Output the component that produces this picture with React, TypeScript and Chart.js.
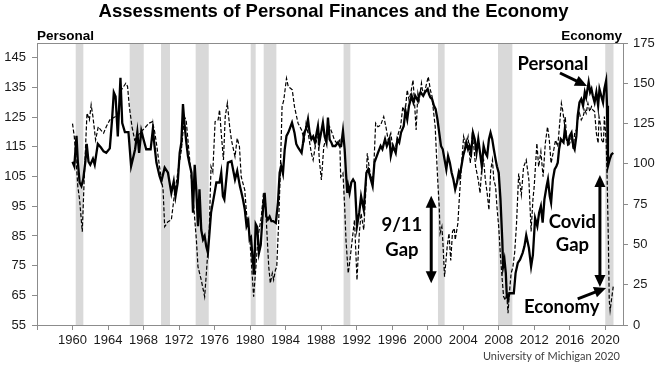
import React, { useEffect, useRef } from 'react';
import { Chart, registerables } from 'chart.js';

Chart.register(...registerables);

// ---- Data ----
const personalYears = [
  1960.0, 1960.2, 1960.45, 1960.6, 1960.8, 1961.0, 1961.2, 1961.45, 1961.6, 1961.8, 1962.0, 1962.3, 1962.5, 1962.85,
  1963.2, 1963.5, 1963.8, 1964.2, 1964.45, 1964.65, 1964.85, 1965.1, 1965.4, 1965.6, 1965.9, 1966.3, 1966.6, 1966.8,
  1967.05, 1967.3, 1967.5, 1967.75, 1968.0, 1968.3, 1968.8, 1969.05, 1969.25, 1969.45, 1969.8, 1970.0, 1970.38, 1970.75,
  1971.13, 1971.4, 1971.6, 1971.85, 1972.07, 1972.26, 1972.44, 1972.6, 1972.8, 1973.0, 1973.2, 1973.4, 1973.57, 1973.76,
  1973.95, 1974.13, 1974.3, 1974.5, 1974.7, 1974.88, 1975.06, 1975.25, 1975.4, 1975.6, 1976.0, 1976.2, 1976.56, 1976.75,
  1976.94, 1977.1, 1977.5, 1977.9, 1978.3, 1978.55, 1978.85, 1979.0, 1979.2, 1979.4, 1979.6, 1979.8, 1979.95, 1980.1,
  1980.3, 1980.45, 1980.63, 1980.8, 1981.0, 1981.2, 1981.45, 1981.64, 1981.82, 1982.0, 1982.2, 1982.4, 1982.6, 1982.9,
  1983.14, 1983.33, 1983.5, 1983.7, 1983.9, 1984.1, 1984.3, 1984.45, 1984.72, 1985.0, 1985.2, 1985.4, 1985.8, 1985.95,
  1986.1, 1986.3, 1986.52, 1986.7, 1986.9, 1987.1, 1987.3, 1987.5, 1987.64, 1987.8, 1988.0, 1988.2, 1988.4, 1988.6,
  1988.77, 1988.96, 1989.15, 1989.3, 1989.6, 1989.9, 1990.1, 1990.25, 1990.46, 1990.65, 1990.8, 1990.95, 1991.05, 1991.2,
  1991.4, 1991.6, 1991.8, 1992.04, 1992.3, 1992.5, 1992.8, 1993.1, 1993.3, 1993.6, 1993.8, 1994.0, 1994.4, 1994.7,
  1994.9, 1995.2, 1995.4, 1995.7, 1995.85, 1996.1, 1996.4, 1996.6, 1996.8, 1997.0, 1997.3, 1997.5, 1997.7, 1997.9,
  1998.2, 1998.4, 1998.6, 1998.9, 1999.0, 1999.2, 1999.5, 1999.7, 2000.0, 2000.15, 2000.3, 2000.5, 2000.7, 2000.9,
  2001.1, 2001.3, 2001.5, 2001.7, 2001.9, 2002.1, 2002.3, 2002.5, 2002.7, 2002.9, 2003.1, 2003.3, 2003.5, 2003.6,
  2003.8, 2004.0, 2004.2, 2004.35, 2004.55, 2004.7, 2004.9, 2005.1, 2005.3, 2005.5, 2005.7, 2005.9, 2006.1, 2006.3,
  2006.5, 2006.7, 2006.9, 2007.08, 2007.27, 2007.45, 2007.65, 2007.8, 2008.0, 2008.2, 2008.4, 2008.5, 2008.65, 2008.8,
  2008.9, 2009.05, 2009.2, 2009.4, 2009.7, 2009.9, 2010.15, 2010.4, 2010.7, 2010.9, 2011.1, 2011.4, 2011.65, 2011.85,
  2012.1, 2012.35, 2012.55, 2012.75, 2012.95, 2013.15, 2013.4, 2013.55, 2013.75, 2013.9, 2014.1, 2014.3, 2014.5, 2014.65,
  2014.8, 2015.0, 2015.3, 2015.45, 2015.65, 2015.85, 2016.0, 2016.2, 2016.4, 2016.55, 2016.75, 2016.9, 2017.1, 2017.3,
  2017.5, 2017.7, 2017.85, 2018.13, 2018.3, 2018.45, 2018.6, 2018.8, 2019.0, 2019.2, 2019.35, 2019.55, 2019.75, 2019.9,
  2020.1, 2020.2, 2020.3, 2020.5, 2020.7, 2020.9,
];
const personalValues = [
  110, 108.5, 118.7, 110, 103, 101.8, 104, 110, 116, 110, 109, 111, 109, 116,
  114.8, 113.5, 113, 114.5, 124, 133.4, 132, 118.5, 138.3, 123, 120, 120, 108.5, 111,
  114.2, 120, 113, 120.4, 117.5, 114.2, 114.2, 121, 115, 109.7, 105.2, 103.4, 108, 106.3,
  99.5, 103.4, 98.4, 103, 113, 116.5, 129.4, 123.2, 117, 111.9, 109, 106.3, 92.8, 109,
  100, 88.3, 100.7, 87, 83.8, 85, 81.5, 79.3, 85, 92.8, 99.5, 103, 103, 106.3,
  98.4, 97.3, 109.7, 110.2, 104, 106.9, 101.8, 100, 97.3, 94, 88.3, 90, 83.8, 84.5,
  77, 72, 89, 88, 79.3, 82, 93.9, 99.5, 91.6, 90.5, 91.5, 90, 90, 89.4,
  96.2, 106.3, 108.5, 106, 114.2, 118.7, 119.8, 121, 123.2, 119.8, 116, 114.8, 113, 116,
  119.8, 121, 124.3, 119.8, 117.6, 118.5, 116.5, 119.8, 122, 116.5, 119.8, 123.2, 118.5, 116.5,
  124.9, 117.5, 116.5, 115.3, 115.3, 116.5, 115.3, 115.3, 120.4, 114.2, 106.3, 99.5, 101.8, 99.5,
  103, 104, 103, 88.3, 93, 98.4, 93.9, 106.3, 107.4, 104, 101.8, 109.7, 113, 115.3,
  114.2, 117.6, 115.3, 117.6, 112, 115.3, 113, 117.6, 116.5, 119.8, 122, 127.2, 124.3, 128.9,
  132.2, 130, 132.2, 130.5, 132.2, 133.4, 132.2, 133.4, 134.5, 132.8, 131.7, 131.1, 128.9, 127.7,
  124.3, 119.8, 115.3, 114.2, 110.8, 107.4, 111.9, 109.7, 106.3, 104, 100.7, 103, 106.3, 105.2,
  108.5, 112, 114.2, 116.5, 114.2, 115.3, 113, 119.8, 117.6, 113, 117.6, 113, 108.5, 115.3,
  113, 111.9, 117.6, 119.8, 117.6, 114.2, 110.8, 108.5, 106.3, 97.3, 83.8, 74.7, 77, 72.5,
  65.7, 63.5, 65.7, 65.7, 65.7, 72.5, 75.9, 77, 79.3, 81.5, 85.2, 81, 74.7, 78.5,
  91, 88.3, 92.8, 95, 89.5, 97.3, 101.8, 104, 98.4, 96.2, 104, 107.4, 108.5, 109.7,
  114.2, 117.6, 116.5, 121, 117.6, 116.5, 118.7, 119.8, 115.3, 114.2, 118.7, 125.5, 130, 131.1,
  128.9, 133.4, 131.7, 136.8, 133.4, 134.5, 132.2, 130, 133.4, 128.9, 134.5, 132.2, 130, 134.5,
  137.3, 128.9, 108.5, 110.8, 112.5, 113,
];

const economyYears = [
  1960.0, 1960.2, 1960.4, 1960.6, 1960.8, 1961.1, 1961.3, 1961.5, 1961.63, 1961.9, 1962.1, 1962.3, 1962.6, 1962.9,
  1963.2, 1963.5, 1963.8, 1964.2, 1964.8, 1965.1, 1965.5, 1966.0, 1966.2, 1966.4, 1966.7, 1967.0, 1967.3, 1967.7,
  1968.1, 1968.6, 1969.0, 1969.25, 1969.45, 1969.8, 1970.2, 1970.38, 1970.75, 1971.13, 1971.5, 1971.85, 1972.26, 1972.6,
  1972.8, 1973.0, 1973.2, 1973.57, 1973.95, 1974.13, 1974.5, 1974.88, 1975.1, 1975.4, 1975.6, 1975.8, 1976.06, 1976.4,
  1976.56, 1976.75, 1977.0, 1977.2, 1977.44, 1977.7, 1977.9, 1978.3, 1978.55, 1978.8, 1979.0, 1979.4, 1979.6, 1979.95,
  1980.1, 1980.4, 1980.63, 1980.9, 1981.27, 1981.5, 1981.7, 1981.9, 1982.1, 1982.28, 1982.5, 1982.65, 1982.85, 1983.0,
  1983.2, 1983.4, 1983.6, 1983.8, 1984.1, 1984.3, 1984.55, 1984.75, 1985.0, 1985.4, 1985.8, 1986.1, 1986.3, 1986.6,
  1986.9, 1987.1, 1987.4, 1987.64, 1987.8, 1988.03, 1988.3, 1988.6, 1988.96, 1989.25, 1989.5, 1989.77, 1990.1, 1990.2,
  1990.46, 1990.65, 1990.8, 1991.05, 1991.2, 1991.5, 1991.76, 1992.04, 1992.3, 1992.5, 1992.8, 1993.0, 1993.2, 1993.4,
  1993.66, 1993.9, 1994.14, 1994.4, 1994.7, 1995.05, 1995.3, 1995.55, 1995.85, 1996.1, 1996.4, 1996.7, 1996.95, 1997.2,
  1997.45, 1997.7, 1997.9, 1998.1, 1998.35, 1998.5, 1998.7, 1998.9, 1999.05, 1999.3, 1999.4, 1999.6, 1999.8, 2000.07,
  2000.3, 2000.5, 2000.6, 2000.85, 2001.0, 2001.15, 2001.3, 2001.4, 2001.6, 2001.7, 2001.9, 2002.2, 2002.4, 2002.6,
  2002.8, 2003.0, 2003.1, 2003.4, 2003.6, 2003.8, 2004.05, 2004.3, 2004.55, 2004.8, 2005.0, 2005.2, 2005.4, 2005.7,
  2005.9, 2006.1, 2006.3, 2006.5, 2006.7, 2006.9, 2007.1, 2007.3, 2007.45, 2007.65, 2007.8, 2008.0, 2008.2, 2008.4,
  2008.55, 2008.75, 2008.9, 2009.05, 2009.2, 2009.4, 2009.6, 2009.8, 2010.0, 2010.25, 2010.55, 2010.8, 2011.1, 2011.4,
  2011.65, 2011.85, 2012.0, 2012.3, 2012.5, 2012.75, 2013.0, 2013.25, 2013.5, 2013.7, 2013.9, 2014.2, 2014.4, 2014.65,
  2015.06, 2015.2, 2015.4, 2015.5, 2015.65, 2015.8, 2016.0, 2016.2, 2016.4, 2016.55, 2016.75, 2016.9, 2017.1, 2017.3,
  2017.5, 2017.7, 2017.85, 2018.05, 2018.25, 2018.45, 2018.6, 2018.8, 2019.0, 2019.2, 2019.3, 2019.5, 2019.6, 2019.8,
  2019.9, 2020.1, 2020.2, 2020.35, 2020.45, 2020.55, 2020.7, 2020.9,
];
const economyValues = [
  125, 116.9, 102.4, 85.8, 77.6, 57.9, 88, 114.8, 131.4, 127.3, 136.6, 129.3, 114.8, 123,
  120.9, 119, 123, 127.3, 129.3, 130.4, 145.9, 150, 148, 135.5, 123, 114.8, 117, 120,
  122, 125.2, 126.2, 120, 112.8, 98.3, 83.8, 61, 64.1, 65.2, 81.8, 94.2, 108.6, 129.3,
  127, 114.8, 102.4, 79.6, 52.8, 36.2, 27.9, 17.6, 34.1, 59, 98.3, 95, 126.2, 127.3,
  133.5, 119, 102.4, 129.3, 137.6, 123, 114.8, 104.5, 115.9, 110.7, 92, 83.8, 69.3, 55,
  42.4, 17.6, 34.1, 55, 67.2, 81.8, 79, 56.9, 36.2, 25.9, 32.1, 28, 34.1, 36,
  61, 94.2, 135.5, 139.7, 153.1, 147.9, 146.9, 145.9, 135.5, 125.2, 121, 114.8, 125, 117,
  106.6, 102.4, 112.8, 117, 102.4, 90, 110.7, 116.9, 123, 119, 114.8, 112.8, 114.8, 92,
  94.2, 73.5, 52.8, 32.1, 38, 52.8, 65.2, 27.9, 56.9, 69.3, 59, 79.6, 106.6, 98.3,
  90, 94, 125.2, 123, 124, 129.3, 123, 114.8, 119, 108.6, 110.7, 119, 123, 135.5,
  131.4, 145.9, 139.7, 143.9, 152, 139.7, 121, 143.9, 139.7, 150, 145.9, 143.9, 148, 154.1,
  145.9, 141.8, 135.5, 123, 104.5, 88, 73.5, 56.9, 61, 52.8, 30, 48.6, 56.9, 40,
  58, 60, 52.8, 63, 81.8, 98.3, 116.9, 110.7, 116.9, 100.4, 116.9, 110.7, 98.3, 90,
  81.8, 98.3, 102.4, 90, 81.8, 71.4, 96.2, 102.4, 90, 86, 73.5, 61, 42.4, 27.9,
  17.6, 15.5, 19.6, 7.3, 19.6, 32.1, 36, 45, 62, 94, 80.7, 98, 102.4, 90,
  58, 77.6, 86, 112.8, 98.3, 107.6, 92, 112.8, 123, 114.8, 100.4, 108.6, 114.8, 110.7,
  137.6, 133.5, 125.2, 129.3, 114.8, 110.7, 112.8, 117, 108.6, 119, 121, 127.3, 131.4, 127.3,
  129.3, 133.5, 131.4, 137.6, 132.5, 135.5, 133.5, 132.5, 119, 112.8, 129.3, 123, 114.8, 112.8,
  129.3, 114.8, 94.2, 52.8, 15.5, 9, 15.5, 23.8,
];

const recessionStarts = [1960.36, 1966.44, 1969.97, 1973.87, 1980.07, 1981.53, 1990.53, 2001.16, 2007.92, 2020.0];
const recessionEnds = [1961.22, 1968.02, 1970.98, 1975.34, 1980.63, 1982.96, 1991.29, 2001.91, 2009.54, 2020.93];

const xTickYears = [1956, 1960, 1964, 1968, 1972, 1976, 1980, 1984, 1988, 1992, 1996, 2000, 2004, 2008, 2012, 2016, 2020];
const personalTicks = [55, 65, 75, 85, 95, 105, 115, 125, 135, 145];
const economyTicks = [0, 25, 50, 75, 100, 125, 150, 175];

const titleText = 'Assessments of Personal Finances and the Economy';
const leftAxisTitle = 'Personal';
const rightAxisTitle = 'Economy';
const sourceText = 'University of Michigan 2020';

// ---- Annotation placement (in data units: year, Personal-index) ----
const textNotes = [
  { lines: ['Personal'], x: 2014.1, y: [140.9] },
  { lines: ['9/11', 'Gap'], x: 1997.1, y: [86.5, 78.2] },
  { lines: ['Covid', 'Gap'], x: 2016.3, y: [87.7, 79.9] },
  { lines: ['Economy'], x: 2015.1, y: [59.0] },
];
const arrowNotes = [
  { x0: 2014.9, y0: 139.9, x1: 2017.95, y1: 135.5, both: false },
  { x0: 2000.4, y0: 98.5, x1: 2000.4, y1: 69.1, both: true },
  { x0: 2019.4, y0: 105.5, x1: 2019.4, y1: 67.8, both: true },
  { x0: 2016.9, y0: 63.8, x1: 2020.1, y1: 67.5, both: false },
];

const AXIS_COLOR = '#8c8c8c';
const TEXT_COLOR = '#1a1a1a';

function head(ctx: CanvasRenderingContext2D, fx: number, fy: number, tx: number, ty: number) {
  const len = 12;
  const half = 5.5;
  const a = Math.atan2(ty - fy, tx - fx);
  const bx = tx - len * Math.cos(a);
  const by = ty - len * Math.sin(a);
  ctx.beginPath();
  ctx.moveTo(tx, ty);
  ctx.lineTo(bx + half * Math.sin(a), by - half * Math.cos(a));
  ctx.lineTo(bx - half * Math.sin(a), by + half * Math.cos(a));
  ctx.closePath();
  ctx.fill();
}

function arrow(ctx: CanvasRenderingContext2D, x0: number, y0: number, x1: number, y1: number, both: boolean) {
  const a = Math.atan2(y1 - y0, x1 - x0);
  const inset = 9;
  const sx = both ? x0 + inset * Math.cos(a) : x0;
  const sy = both ? y0 + inset * Math.sin(a) : y0;
  const ex = x1 - inset * Math.cos(a);
  const ey = y1 - inset * Math.sin(a);
  ctx.lineWidth = 3;
  ctx.beginPath();
  ctx.moveTo(sx, sy);
  ctx.lineTo(ex, ey);
  ctx.stroke();
  head(ctx, x0, y0, x1, y1);
  if (both) head(ctx, x1, y1, x0, y0);
}

const decorPlugin = {
  id: 'decor',
  beforeDatasetsDraw(chart: any) {
    const { ctx, chartArea: a, scales } = chart;
    const x = scales.x;
    ctx.save();
    ctx.fillStyle = '#d9d9d9';
    recessionStarts.forEach((s, i) => {
      const x0 = x.getPixelForValue(s);
      const x1 = x.getPixelForValue(recessionEnds[i]);
      ctx.fillRect(x0, a.top + 1, x1 - x0, a.bottom - a.top - 1);
    });
    ctx.strokeStyle = AXIS_COLOR;
    ctx.lineWidth = 1;
    ctx.beginPath();
    ctx.moveTo(a.left, a.top + 0.5);
    ctx.lineTo(a.right, a.top + 0.5);
    ctx.stroke();
    ctx.restore();
  },
  afterDraw(chart: any) {
    const { ctx, chartArea: a, scales, width } = chart;
    const x = scales.x;
    const y = scales.y;
    ctx.save();
    ctx.fillStyle = '#000';
    ctx.textAlign = 'center';
    ctx.textBaseline = 'middle';
    ctx.font = 'bold 18.5px "Liberation Sans", Arial, sans-serif';
    ctx.fillText(titleText, width / 2, 12);

    ctx.textBaseline = 'alphabetic';
    ctx.font = 'bold 13.5px "Liberation Sans", Arial, sans-serif';
    ctx.textAlign = 'left';
    ctx.fillText(leftAxisTitle, a.left, 40);
    ctx.textAlign = 'right';
    ctx.fillText(rightAxisTitle, a.right - 1, 40);

    ctx.font = '11px Lato, sans-serif';
    ctx.fillStyle = '#404040';
    ctx.textAlign = 'right';
    ctx.fillText(sourceText, a.right - 3, 360);

    ctx.fillStyle = '#000';
    ctx.strokeStyle = '#000';
    ctx.font = 'bold 18.5px Lato, sans-serif';
    ctx.textAlign = 'center';
    textNotes.forEach((n) => {
      n.lines.forEach((line, i) => {
        ctx.fillText(line, x.getPixelForValue(n.x), y.getPixelForValue(n.y[i]));
      });
    });
    arrowNotes.forEach((n) => {
      arrow(
        ctx,
        x.getPixelForValue(n.x0),
        y.getPixelForValue(n.y0),
        x.getPixelForValue(n.x1),
        y.getPixelForValue(n.y1),
        n.both,
      );
    });
    ctx.restore();
  },
};

const tickFont = { family: '"Liberation Sans", Arial, sans-serif', size: 13 };

export default function App() {
  const canvasRef = useRef<HTMLCanvasElement | null>(null);

  useEffect(() => {
    if (!canvasRef.current) return;
    const chart = new Chart(canvasRef.current, {
      type: 'line',
      data: {
        datasets: [
          {
            label: 'Personal',
            data: personalYears.map((yr, i) => ({ x: yr, y: personalValues[i] })),
            yAxisID: 'y',
            borderColor: '#000',
            borderWidth: 2.3,
            pointRadius: 0,
            tension: 0,
            fill: false,
          },
          {
            label: 'Economy',
            data: economyYears.map((yr, i) => ({ x: yr, y: economyValues[i] })),
            yAxisID: 'y1',
            borderColor: '#000',
            borderWidth: 1.2,
            borderDash: [4, 2],
            pointRadius: 0,
            tension: 0,
            fill: false,
          },
        ],
      },
      options: {
        responsive: false,
        animation: false,
        events: [],
        layout: { padding: { top: 43, left: 0, right: 0, bottom: 0 } },
        plugins: {
          legend: { display: false },
          tooltip: { enabled: false },
          title: { display: false },
        },
        scales: {
          x: {
            type: 'linear',
            min: 1956,
            max: 2022,
            afterBuildTicks: (s: any) => {
              s.ticks = xTickYears.map((v) => ({ value: v }));
            },
            afterFit: (s: any) => {
              s.height = 43;
            },
            grid: { drawOnChartArea: false, drawTicks: true, tickLength: 5, color: AXIS_COLOR },
            border: { color: AXIS_COLOR },
            ticks: {
              autoSkip: false,
              maxRotation: 0,
              padding: 3,
              color: TEXT_COLOR,
              font: tickFont,
              callback: (v: any) => (v === xTickYears[0] ? '' : String(v)),
            },
          },
          y: {
            type: 'linear',
            position: 'left',
            min: 55,
            max: 150,
            afterBuildTicks: (s: any) => {
              s.ticks = personalTicks.map((v) => ({ value: v }));
            },
            afterFit: (s: any) => {
              s.width = 37;
            },
            grid: { drawOnChartArea: false, drawTicks: true, tickLength: 5, color: AXIS_COLOR },
            border: { color: AXIS_COLOR },
            ticks: { padding: 6, color: TEXT_COLOR, font: tickFont, callback: (v: any) => String(v) },
          },
          y1: {
            type: 'linear',
            position: 'right',
            min: 0,
            max: 175,
            afterBuildTicks: (s: any) => {
              s.ticks = economyTicks.map((v) => ({ value: v }));
            },
            afterFit: (s: any) => {
              s.width = 44;
            },
            grid: { drawOnChartArea: false, drawTicks: true, tickLength: 5, color: AXIS_COLOR },
            border: { color: AXIS_COLOR },
            ticks: { padding: 5, color: TEXT_COLOR, font: tickFont, callback: (v: any) => String(v) },
          },
        },
      },
      plugins: [decorPlugin],
    });
    return () => chart.destroy();
  }, []);

  return (
    <div style={{ position: 'absolute', left: 0, top: 0, width: 667, height: 368, background: '#fff' }}>
      <canvas ref={canvasRef} width={667} height={368} style={{ display: 'block' }} />
    </div>
  );
}
